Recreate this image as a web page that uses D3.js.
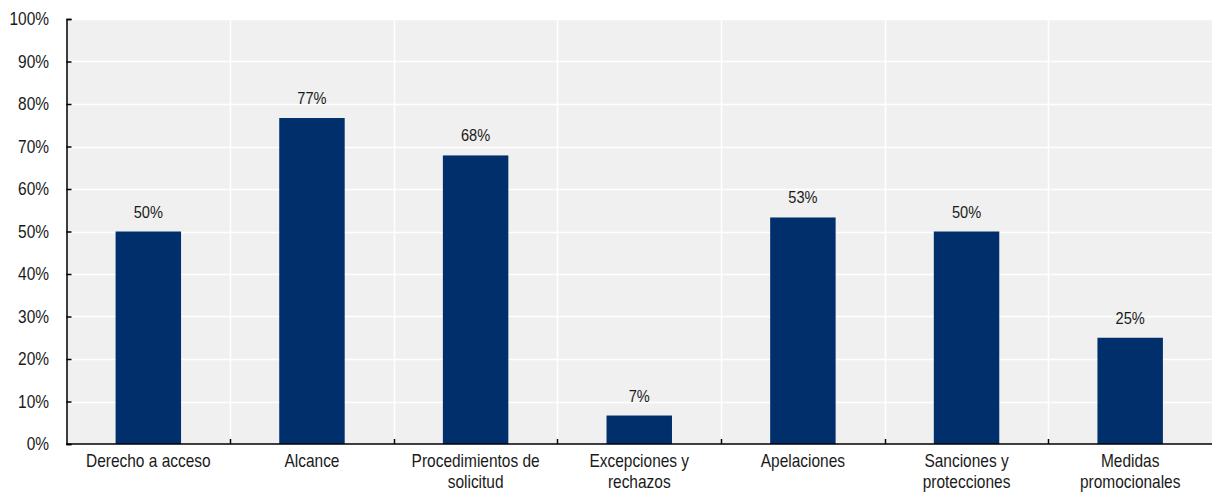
<!DOCTYPE html>
<html>
<head>
<meta charset="utf-8">
<script src="https://cdn.jsdelivr.net/npm/d3@7"></script>
<style>
  html, body { margin: 0; padding: 0; background: #ffffff; }
  svg text { font-family: "Liberation Sans", Arial, sans-serif; fill: #1a1a1a; }
</style>
</head>
<body>
<svg id="chart" width="1212" height="493"></svg>
<script>
// Categories (two-line labels split on "|")
const categories = [
  "Derecho a acceso",
  "Alcance",
  "Procedimientos de|solicitud",
  "Excepciones y|rechazos",
  "Apelaciones",
  "Sanciones y|protecciones",
  "Medidas|promocionales"
];
// Share of each category, in percent
const values = [50, 76.7, 67.9, 6.7, 53.3, 50, 25];
const yTicks = [0, 10, 20, 30, 40, 50, 60, 70, 80, 90, 100];

const W = 1212, H = 493;
const margin = { top: 19, right: 0, bottom: 49, left: 66.5 };
// Narrow-looking type: regular sans squeezed horizontally
const SX = 0.86;
const svg = d3.select("#chart");

const x = d3.scaleBand()
  .domain(categories)
  .range([margin.left, W - margin.right])
  .paddingInner(0)
  .paddingOuter(0);

const y = d3.scaleLinear()
  .domain([0, 100])
  .range([H - margin.bottom, margin.top]);

const squeeze = (px, py) => `translate(${px},${py}) scale(${SX},1)`;

// Plot background
svg.append("rect")
  .attr("x", margin.left)
  .attr("y", margin.top)
  .attr("width", W - margin.right - margin.left)
  .attr("height", y(0) - margin.top)
  .attr("fill", "#f0f0f0");

// Horizontal gridlines
svg.append("g")
  .selectAll("line")
  .data(yTicks.filter(t => t > 0))
  .join("line")
  .attr("x1", margin.left)
  .attr("x2", W - margin.right)
  .attr("y1", d => Math.round(y(d)) + 0.5)
  .attr("y2", d => Math.round(y(d)) + 0.5)
  .attr("stroke", "#ffffff")
  .attr("stroke-width", 1.5);

// Vertical gridlines between categories
const bounds = categories.slice(1).map(c => x(c));
svg.append("g")
  .selectAll("line")
  .data(bounds)
  .join("line")
  .attr("x1", d => Math.round(d) + 0.5)
  .attr("x2", d => Math.round(d) + 0.5)
  .attr("y1", margin.top)
  .attr("y2", y(0))
  .attr("stroke", "#ffffff")
  .attr("stroke-width", 1.5);

// Bars
const barW = x.bandwidth() * 0.4;
const rows = categories.map((c, i) => ({ c, v: values[i] }));
svg.append("g")
  .selectAll("rect")
  .data(rows)
  .join("rect")
  .attr("x", d => x(d.c) + (x.bandwidth() - barW) / 2)
  .attr("width", barW)
  .attr("y", d => y(d.v))
  .attr("height", d => y(0) - y(d.v))
  .attr("fill", "#002f6c");

// Value labels
const fmt = v => d3.format(".0f")(v) + "%";
svg.append("g")
  .selectAll("text")
  .data(rows)
  .join("text")
  .attr("transform", d => squeeze(x(d.c) + x.bandwidth() / 2, y(d.v) - 14))
  .attr("text-anchor", "middle")
  .attr("font-size", "17px")
  .text(d => fmt(d.v));

// Y axis: line with inward ticks, labels drawn separately
const yAxis = d3.axisLeft(y)
  .tickValues(yTicks)
  .tickSize(-5)
  .tickFormat("");
const gy = svg.append("g")
  .attr("transform", `translate(${margin.left},0)`)
  .call(yAxis);
gy.select(".domain").attr("stroke", "#000").attr("stroke-width", 1.5);
gy.selectAll(".tick line").attr("stroke", "#000").attr("stroke-width", 1.5);

svg.append("g")
  .selectAll("text")
  .data(yTicks)
  .join("text")
  .attr("transform", d => squeeze(margin.left - 17.5, y(d)))
  .attr("dy", "0.35em")
  .attr("text-anchor", "end")
  .attr("font-size", "18px")
  .text(d => d + "%");

// X axis baseline and inward ticks at category boundaries
svg.append("line")
  .attr("x1", margin.left)
  .attr("x2", W - margin.right)
  .attr("y1", y(0))
  .attr("y2", y(0))
  .attr("stroke", "#000")
  .attr("stroke-width", 1.5);
svg.append("g")
  .selectAll("line")
  .data(bounds)
  .join("line")
  .attr("x1", d => Math.round(d) + 0.5)
  .attr("x2", d => Math.round(d) + 0.5)
  .attr("y1", y(0))
  .attr("y2", y(0) - 5)
  .attr("stroke", "#000")
  .attr("stroke-width", 1.5);

// Category labels
const lab = svg.append("g")
  .selectAll("text")
  .data(categories)
  .join("text")
  .attr("transform", d => squeeze(x(d) + x.bandwidth() / 2, y(0) + 23))
  .attr("text-anchor", "middle")
  .attr("font-size", "18px");
lab.each(function (d) {
  const t = d3.select(this);
  d.split("|").forEach((ln, i) => {
    t.append("tspan")
      .attr("x", 0)
      .attr("dy", i === 0 ? 0 : 21)
      .text(ln);
  });
});
</script>
</body>
</html>
